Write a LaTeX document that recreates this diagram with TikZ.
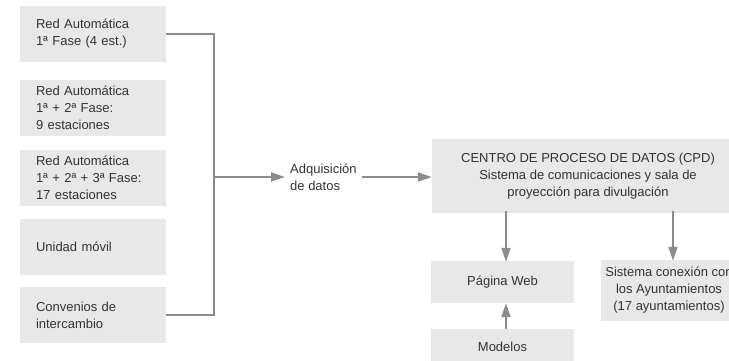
\documentclass[tikz,border=0pt]{standalone}
\usepackage{fontspec}
\setmainfont{Liberation Sans}
\usetikzlibrary{arrows.meta}
\definecolor{cajagris}{HTML}{E8E8E8}
\definecolor{lineagris}{HTML}{8C8C8C}
\definecolor{textogris}{HTML}{333333}
\tikzset{
  caja/.style={fill=cajagris,draw=none,inner sep=0pt,font=\fontsize{13}{17}\selectfont,text=textogris},
  cajaizq/.style={caja,minimum width=146pt,minimum height=56pt,text width=114pt,align=left},
  flecha/.style={draw=lineagris,line width=2pt,-{Triangle[length=14pt,width=9pt]}},
  linea/.style={draw=lineagris,line width=2pt}
}
\begin{document}
\begin{tikzpicture}[x=1pt,y=-1pt]
\useasboundingbox (0,0) rectangle (729,361);
\clip (0,0) rectangle (729,361);
% fuentes de datos
\node[cajaizq] (red1) at (93,34) {Red Automática\\1ª Fase (4 est.)};
\node[cajaizq] (red2) at (93,108) {Red Automática\\1ª + 2ª Fase:\\9 estaciones};
\node[cajaizq] (red3) at (93,178) {Red Automática\\1ª + 2ª + 3ª Fase:\\17 estaciones};
\node[cajaizq] (movil) at (93,247) {Unidad móvil};
\node[cajaizq] (conv) at (93,315) {Convenios de\\intercambio};
% adquisicion
\node[caja,fill=none,anchor=west,align=left,inner xsep=5pt] (adq) at (285,177) {Adquisición\\de datos};
% centro de proceso
\node[caja,minimum width=312pt,minimum height=74pt,align=center] (cpd) at (588,176)
  {CENTRO DE PROCESO DE DATOS (CPD)\\Sistema de comunicaciones y sala de\\proyección para divulgación};
\node[caja,minimum width=143pt,minimum height=42pt] (web) at (502.5,282) {Página Web};
\node[caja,minimum width=143pt,minimum height=36pt] (mod) at (502.5,347) {Modelos};
\node[caja,minimum width=136pt,minimum height=61pt,align=center] (ayto) at (669,290.5)
  {Sistema conexión con\\los Ayuntamientos\\(17 ayuntamientos)};
% conexiones
\coordinate (bus) at (214,177);
\draw[linea] (red1.east) -| (bus) |- (conv.east);
\draw[flecha] (bus) -- (bus -| adq.west);
\draw[flecha] (adq.east) -- (adq.east -| cpd.west);
\draw[flecha] ([xshift=3.5pt,yshift=2pt]cpd.south -| web.north) -- ([xshift=3.5pt,yshift=-1pt]web.north);
\draw[flecha] ([xshift=3.5pt]mod.north) -- ([xshift=3.5pt]web.south);
\draw[flecha] ([xshift=4pt,yshift=2pt]cpd.south -| ayto.north) -- ([xshift=4pt,yshift=-1pt]ayto.north);
\end{tikzpicture}
\end{document}
